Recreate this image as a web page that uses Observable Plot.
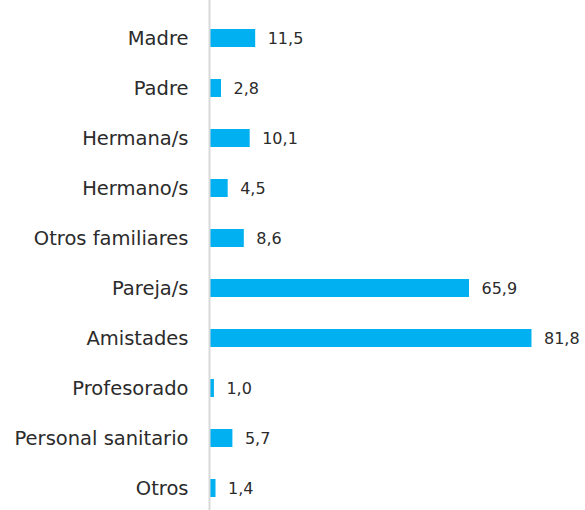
<!DOCTYPE html>
<html><head><meta charset="utf-8">
<script src="https://cdn.jsdelivr.net/npm/d3@7"></script>
<script src="https://cdn.jsdelivr.net/npm/@observablehq/plot@0.6"></script>
<style>body{margin:0;background:#fff}</style>
</head><body><div id="chart"></div>
<script>
const categories = ["Madre","Padre","Hermana/s","Hermano/s","Otros familiares","Pareja/s","Amistades","Profesorado","Personal sanitario","Otros"];
const values = [11.5,2.8,10.1,4.5,8.6,65.9,81.8,1.0,5.7,1.4];
const data = categories.map((c,i)=>({cat:c, v:values[i]}));
const fmt = v => v.toFixed(1).replace(".", ",");
const font = "'DejaVu Sans', sans-serif";
const chart = Plot.plot({
  width: 585, height: 510,
  marginLeft: 210, marginRight: 0, marginTop: 0, marginBottom: 0,
  style: {fontFamily: font, color: "#2b2b2b", background: "#fff"},
  x: {domain: [0, 95], range: [210, 583.35], axis: null},
  y: {domain: categories, range: [10.5, 515.5], paddingInner: 0.644, paddingOuter: 0.322, align: 0.5, label: null},
  marks: [
    Plot.barX(data, {y: "cat", x: "v", fill: "#00B0F0", insetTop: 0, insetBottom: 0}),
    Plot.ruleX([0], {stroke: "#d9d9d9", strokeWidth: 2, dx: -1}),
    Plot.axisY({tickSize: 0, tickPadding: 22, fontSize: 19.5, fill: "#2b2b2b", label: null}),
    Plot.text(data, {y: "cat", x: "v", text: d => fmt(d.v), textAnchor: "start", dx: 12, fontSize: 16, fill: "#2b2b2b"})
  ]
});
document.getElementById("chart").append(chart);
</script></body></html>
